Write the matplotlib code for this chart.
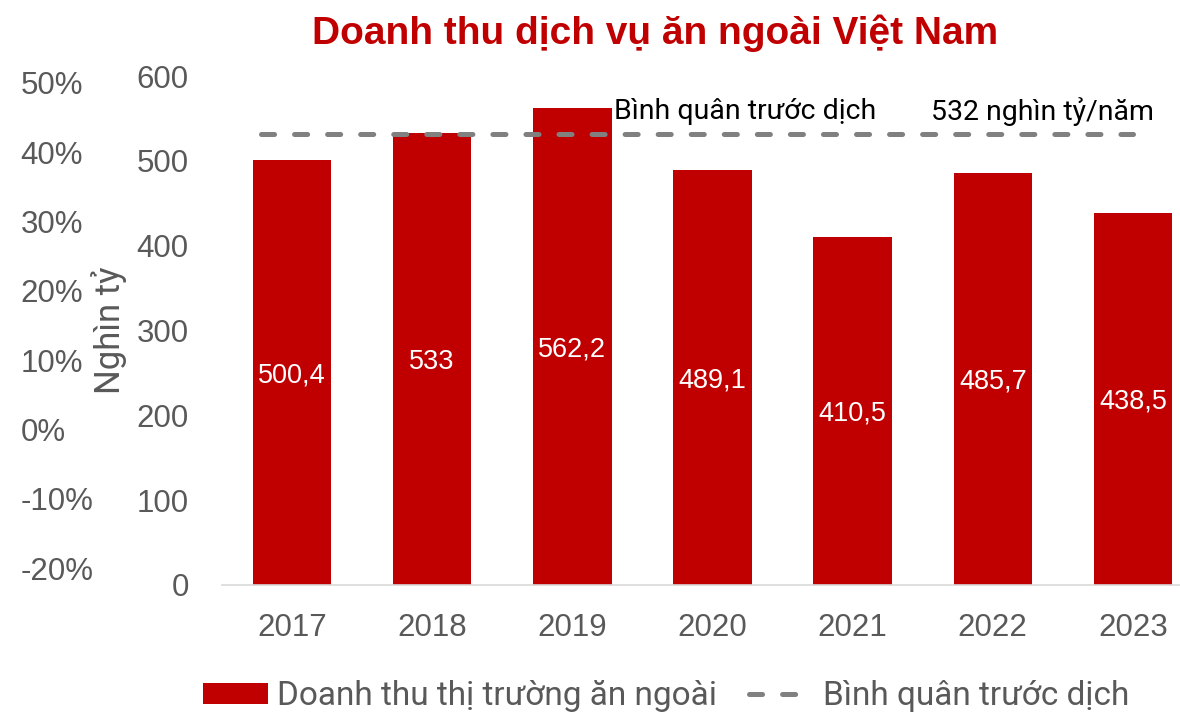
import matplotlib
matplotlib.use("Agg")
import matplotlib.pyplot as plt
from matplotlib.patches import Patch
from matplotlib.lines import Line2D
import matplotlib.ticker as mticker

plt.rcParams['lines.scale_dashes'] = False

years = ["2017", "2018", "2019", "2020", "2021", "2022", "2023"]
revenue = [500.4, 533, 562.2, 489.1, 410.5, 485.7, 438.5]
avg_pre_covid = 532
pct_ticks = [-0.2, -0.1, 0.0, 0.1, 0.2, 0.3, 0.4, 0.5]
title = "Doanh thu dịch vụ ăn ngoài Việt Nam"
ylabel = "Nghìn tỷ"
bar_label_name = "Doanh thu thị trường ăn ngoài"
line_label_name = "Bình quân trước dịch"
annot_left = "Bình quân trước dịch"
annot_right = "532 nghìn tỷ/năm"

RED = "#C00000"
GRAY = "#595959"
LINEGRAY = "#808080"
TICKFONT = "Liberation Sans"
TEXTFONT = ["Roboto", "DejaVu Sans"]

fig = plt.figure(figsize=(11.8, 7.12), dpi=100)
W, H = 1180, 712
ax = fig.add_axes([222 / W, 1 - 585 / H, 981 / W, (585 - 76) / H])

x = list(range(len(years)))
bars = ax.bar(x, revenue, width=0.56, color=RED, zorder=2)
for xi, v in zip(x, revenue):
    ax.annotate(f"{v:g}".replace(".", ","), (xi, v / 2), xytext=(0, -2),
                textcoords="offset points", ha="center", va="center",
                color="white", fontsize=19.5, family=TICKFONT, zorder=4)

ax.plot([-0.22, 6.0], [avg_pre_covid, avg_pre_covid], color=LINEGRAY, lw=3.6,
        dashes=(9.4, 14.4), dash_capstyle="round", zorder=3)

ax.text(2.30, 558, annot_left, ha="left", va="center", fontsize=20.5,
        family=TEXTFONT, color="black")
ax.text(4.56, 558, annot_right, ha="left", va="center", fontsize=20.5,
        family=TEXTFONT, color="black")

ax.set_xlim(-0.5, 6.5)
ax.set_ylim(0, 600)
ax.set_xticks(x)
ax.set_xticklabels(years)
ax.set_yticks(range(0, 601, 100))
for s in ["top", "right", "left"]:
    ax.spines[s].set_visible(False)
ax.spines["bottom"].set_color("#D9D9D9")
ax.spines["bottom"].set_linewidth(1.2)
ax.tick_params(axis="both", length=0, colors=GRAY, labelsize=22.5)
ax.tick_params(axis="x", pad=20)
ax.tick_params(axis="y", pad=24)
for lab in ax.get_xticklabels() + ax.get_yticklabels():
    lab.set_family(TICKFONT)

ax.set_ylabel(ylabel, fontsize=25, color=GRAY, family=TEXTFONT)
ax.yaxis.set_label_coords(-0.097, 0.5)

# secondary percentage axis (left)
ax2 = ax.twinx()
lo = -0.2 - 17 / 693
hi = 0.5 + 7 / 693
ax2.set_ylim(lo, hi)
ax2.yaxis.set_ticks_position("left")
ax2.set_yticks(pct_ticks)
ax2.yaxis.set_major_formatter(mticker.FuncFormatter(lambda v, p: f"{round(v*100):d}%"))
for s in ax2.spines.values():
    s.set_visible(False)
ax2.tick_params(axis="y", length=0, colors=GRAY, labelsize=22.5, pad=145)
for lab in ax2.get_yticklabels():
    lab.set_family(TICKFONT)
    lab.set_horizontalalignment("left")
ax2.set_zorder(-1)

fig.text(655 / W, 1 - 33 / H, title, ha="center", va="center", fontsize=28,
         fontweight="bold", color=RED, family=TICKFONT)

handles = [Patch(facecolor=RED, label=bar_label_name),
           Line2D([0], [0], color=LINEGRAY, lw=3.6, dashes=(9.4, 14.4),
                  dash_capstyle="round", label=line_label_name)]
leg = fig.legend(handles=handles, loc="center left", bbox_to_anchor=(203 / W, 1 - 696 / H),
                 ncol=2, frameon=False, fontsize=24, handlelength=1.95, handleheight=0.6,
                 columnspacing=0.96, handletextpad=0.27, borderaxespad=0, borderpad=0)
for t in leg.get_texts():
    t.set_color(GRAY)
    t.set_family(TEXTFONT)

fig.savefig("out.png", dpi=100)
